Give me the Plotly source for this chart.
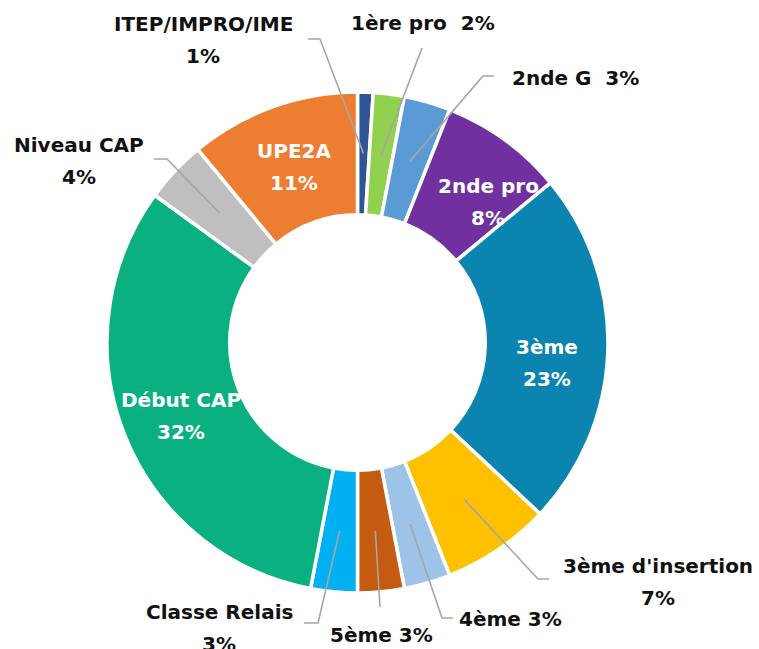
import math
import plotly.graph_objects as go

# ---------------- data ----------------
categories = ["ITEP/IMPRO/IME", "1ère pro", "2nde G", "2nde pro", "3ème",
              "3ème d'insertion", "4ème", "5ème", "Classe Relais",
              "Début CAP", "Niveau CAP", "UPE2A"]
shares = [1, 2, 3, 8, 23, 7, 3, 3, 3, 32, 4, 11]
colors = ["#2F5597", "#92D050", "#5B9BD5", "#7030A0", "#0C84B0",
          "#FFC000", "#9DC3E6", "#C55A11", "#00B0F0",
          "#0BB081", "#BFBFBF", "#ED7D31"]

# ---------------- layout constants ----------------
W, H = 759, 649
CX, CY, R = 357.5, 342.5, 250.5
HOLE = 0.51
FONT = "DejaVu Sans"
FSIZE = 20
LINE_GAP = 32
LEADER = "#A6A6A6"

# label placement (pixel positions of the label text, leader-line route near label)
# style: "in" (white, inside), "out2" (two lines), "out1" (one line, sep between name & value)
label_layout = {
    "ITEP/IMPRO/IME":   dict(style="out2", pos=(203, 24), route=[(320, 39), (308, 39)]),
    "1ère pro":         dict(style="out1", sep="  ", pos=(423, 23), route=[(422, 48)]),
    "2nde G":           dict(style="out1", sep="  ", pos=(575, 78), route=[(483, 76), (494, 76)]),
    "2nde pro":         dict(style="in", pos=(488, 186)),
    "3ème":             dict(style="in", pos=(547, 347)),
    "3ème d'insertion": dict(style="out2", pos=(658, 566), route=[(538, 579), (549, 579)]),
    "4ème":             dict(style="out1", sep=" ", pos=(511, 619), route=[(442, 618), (453, 618)]),
    "5ème":             dict(style="out1", sep=" ", pos=(381, 635), route=[(380, 607)]),
    "Classe Relais":    dict(style="out2", pos=(219, 612), route=[(318, 623), (304, 623)]),
    "Début CAP":        dict(style="in", pos=(181, 400)),
    "Niveau CAP":       dict(style="out2", pos=(79, 145), route=[(167, 159), (154, 159)]),
    "UPE2A":            dict(style="in", pos=(294, 151)),
}


def px(x):
    return x / W


def py(y):
    return 1 - y / H


fig = go.Figure()
fig.add_trace(go.Pie(
    labels=categories,
    values=shares,
    marker=dict(colors=colors, line=dict(color="white", width=3.5)),
    hole=HOLE,
    sort=False,
    direction="clockwise",
    rotation=0,
    textinfo="none",
    hoverinfo="label+percent",
    showlegend=False,
    domain=dict(x=[px(CX - R), px(CX + R)], y=[py(CY + R), py(CY - R)]),
))

annotations = []
shapes = []
total = sum(shares)
cum = 0.0
rmid = R * (1 + HOLE) / 2
for cat, val in zip(categories, shares):
    mid = (cum + val / 2) / total
    cum += val
    theta = 2 * math.pi * mid
    ax = CX + rmid * math.sin(theta)
    ay = CY - rmid * math.cos(theta)
    spec = label_layout[cat]
    style = spec["style"]
    x0, y0 = spec["pos"]
    pct = f"{val}%"
    if style == "in":
        lines = [cat, pct]
        color = "white"
    elif style == "out2":
        lines = [cat, pct]
        color = "#111111"
    else:
        lines = [cat + spec["sep"] + pct]
        color = "#111111"
    for i, t in enumerate(lines):
        annotations.append(dict(
            x=px(x0), y=py(y0 + i * LINE_GAP), xref="paper", yref="paper",
            text=f"<b>{t}</b>", showarrow=False, xanchor="center", yanchor="middle",
            font=dict(family=FONT, size=FSIZE, color=color),
        ))
    if style != "in":
        pts = [(ax, ay)] + spec["route"]
        path = "M " + " L ".join(f"{px(a)},{py(b)}" for a, b in pts)
        shapes.append(dict(type="path", path=path, xref="paper", yref="paper",
                           line=dict(color=LEADER, width=1.6)))

fig.update_layout(
    width=W, height=H,
    margin=dict(l=0, r=0, t=0, b=0),
    paper_bgcolor="white",
    plot_bgcolor="white",
    annotations=annotations,
    shapes=shapes,
    showlegend=False,
)

fig.write_html("out.html",
               config={"displayModeBar": False},
               post_script="document.body.style.margin='0';document.body.style.padding='0';")
